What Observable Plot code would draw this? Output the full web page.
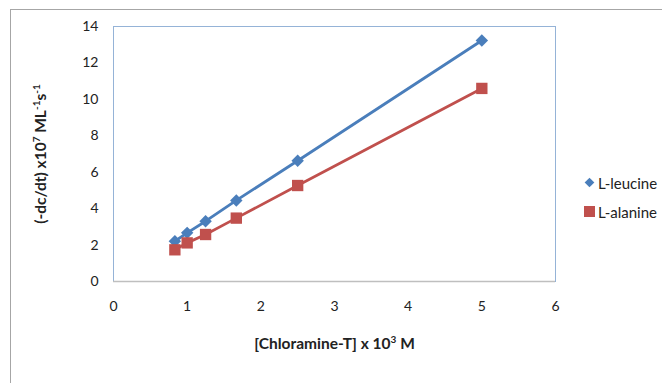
<!DOCTYPE html>
<html><head><meta charset="utf-8">
<script src="https://cdn.jsdelivr.net/npm/d3@7"></script>
<script src="https://cdn.jsdelivr.net/npm/@observablehq/plot@0.6"></script>
<style>
body{margin:0;background:#fff}
#wrap{position:relative;width:662px;height:383px;overflow:hidden;background:#fff}
#border{position:absolute;left:10px;top:9px;width:800px;height:500px;border-left:1.5px solid #a6a6a6;border-top:1.5px solid #a6a6a6}
#chart{position:absolute;left:0;top:0}
#legend{position:absolute;left:583px;top:168px;font:15px Lato,sans-serif;color:#222}
.row{height:29px;display:flex;align-items:center}
.row svg{margin-right:2px}
</style></head><body>
<div id="wrap"><div id="border"></div><div id="chart"></div><div id="legend"></div></div>
<script>
const conc = [0.833, 1.0, 1.25, 1.667, 2.5, 5.0];
const leucine = [2.21, 2.67, 3.31, 4.45, 6.63, 13.23];
const alanine = [1.74, 2.12, 2.58, 3.48, 5.27, 10.6];
const seriesNames = ["L-leucine", "L-alanine"];
const seriesColors = ["#4a7ebb", "#c0504d"];
const xTicks = [0, 1, 2, 3, 4, 5, 6];
const yTicks = [0, 2, 4, 6, 8, 10, 12, 14];

const leuRows = conc.map((c, i) => ({x: c, y: leucine[i], series: seriesNames[0]}));
const alaRows = conc.map((c, i) => ({x: c, y: alanine[i], series: seriesNames[1]}));

const plot = Plot.plot({
  width: 662, height: 383,
  marginLeft: 113, marginRight: 107, marginTop: 26, marginBottom: 102,
  style: {fontFamily: "Lato, sans-serif", fontSize: "14px", color: "#222", background: "transparent"},
  x: {domain: [0, 6], ticks: xTicks, tickFormat: d => String(d), tickSize: 0, tickPadding: 20, label: "x", labelAnchor: "center", labelOffset: 67},
  y: {domain: [0, 14], ticks: yTicks, tickFormat: d => String(d), tickSize: 0, tickPadding: 15, label: "y", labelAnchor: "center", labelOffset: 79},
  marks: [
    Plot.frame({stroke: "#95b3d7"}),
    Plot.ruleY([0], {stroke: "#bfbfbf", strokeWidth: 1.5}),
    Plot.line(alaRows, {x: "x", y: "y", stroke: seriesColors[1], strokeWidth: 2.8}),
    Plot.line(leuRows, {x: "x", y: "y", stroke: seriesColors[0], strokeWidth: 2.8}),
    Plot.dot(leuRows, {x: "x", y: "y", symbol: "diamond2", fill: seriesColors[0], r: 5.6, stroke: null}),
    Plot.dot(alaRows, {x: "x", y: "y", symbol: "square", fill: seriesColors[1], r: 6.4, stroke: null})
  ]
});
document.getElementById("chart").appendChild(plot);

// Superscripts in axis labels
function supLabel(sel, parts) {
  const t = d3.select(plot).select(sel);
  if (t.empty()) return;
  t.text(null).attr("font-weight", "bold").attr("fill", "#222").attr("font-size", "15.5px");
  parts.forEach(([s, sup], i) => {
    const ts = t.append("tspan").text(s);
    if (sup) ts.attr("font-size", "10px").attr("dy", -5.5);
    else if (i > 0 && parts[i-1][1]) ts.attr("dy", 5.5);
  });
}
supLabel('g[aria-label="y-axis label"] text', [["(-dc/dt) x10",0],["7",1],[" ML",0],["-1",1],["s",0],["-1",1]]);
supLabel('g[aria-label="x-axis label"] text', [["[Chloramine-T] x 10",0],["3",1],[" M",0]]);

// Legend
const leg = d3.select("#legend");
seriesNames.forEach((n, i) => {
  const row = leg.append("div").attr("class", "row");
  const svg = row.append("svg").attr("width", 13).attr("height", 13);
  svg.append("path").attr("transform", "translate(6.5,6.5)")
    .attr("d", d3.symbol(i === 0 ? d3.symbolDiamond2 : d3.symbolSquare, i === 0 ? 60 : 121)())
    .attr("fill", seriesColors[i]);
  row.append("span").text(n);
});
</script></body></html>
